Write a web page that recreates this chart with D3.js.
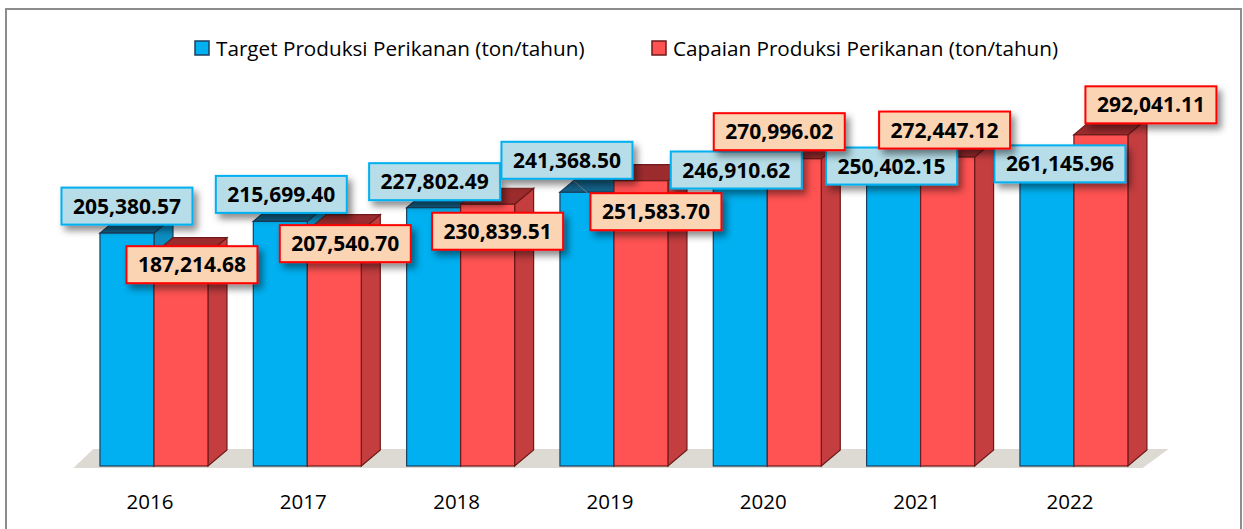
<!DOCTYPE html>
<html>
<head>
<meta charset="utf-8">
<script src="https://cdnjs.cloudflare.com/ajax/libs/d3/7.8.5/d3.min.js"></script>
<style>
  body { margin: 0; background: #fff; }
  svg { display: block; }
</style>
</head>
<body>
<div id="chart"></div>
<script>
// data
var years = ['2016', '2017', '2018', '2019', '2020', '2021', '2022']
var target = [205380.57, 215699.40, 227802.49, 241368.50, 246910.62, 250402.15, 261145.96]
var capaian = [187214.68, 207540.70, 230839.51, 251583.70, 270996.02, 272447.12, 292041.11]
var seriesNames = ['Target Produksi Perikanan (ton/tahun)', 'Capaian Produksi Perikanan (ton/tahun)']

// label nudges (moved by hand in the original)
var targetNudge = [[0, -27], [1, -27], [1, -26], [-20, -32], [-4, -16], [-2, -16], [13, -6]]
var capaianNudge = [[11, 11], [11, 13], [10, 27], [15, 31], [-15, -27], [-3, -27], [50, -30]]

var W = 1243, H = 529
var depthX = 19, depthY = -16
var fmt = d3.format(',.2f')

var svg = d3.select('#chart').append('svg')
    .attr('width', W)
    .attr('height', H)

var defs = svg.append('defs')
var shadow = defs.append('filter')
    .attr('id', 'shadow')
    .attr('x', '-20%').attr('y', '-30%')
    .attr('width', '150%').attr('height', '180%')
shadow.append('feDropShadow')
    .attr('dx', 4).attr('dy', 5)
    .attr('stdDeviation', 3.5)
    .attr('flood-color', '#000')
    .attr('flood-opacity', 0.45)

// frame
svg.append('rect')
    .attr('x', 6).attr('y', 9)
    .attr('width', 1235).attr('height', 540)
    .attr('fill', 'none')
    .attr('stroke', '#8c8c8c')
    .attr('stroke-width', 2)

// scales
var xScale = d3.scaleBand()
    .domain(years)
    .range([77.3, 1150.6])
    .paddingInner(0.2957)
    .paddingOuter(0.1479)
var yScale = d3.scaleLinear()
    .domain([0, 300000])
    .range([466, 125.8])
var barW = xScale.bandwidth() / 2

var colors = [
  { front: '#00b0f0', side: '#0a8ec2', top: '#13628a', edge: '#1d3f5e' },
  { front: '#ff5252', side: '#c43d3f', top: '#9c2b2d', edge: '#6e1a1a' }
]

// floor
var fl = xScale.range()[0] - 4, fr = xScale.range()[1] - 8
var floorY = yScale(0) + 2
svg.append('path')
    .attr('d', 'M' + fl + ',' + floorY + 'L' + fr + ',' + floorY +
      'L' + (fr + 26) + ',' + (floorY - 19) + 'L' + (fl + 20) + ',' + (floorY - 19) + 'Z')
    .attr('fill', '#dddad3')

// 3d bars
function bar(g, x, v, c) {
  var y0 = yScale(0), y1 = yScale(v)
  g.append('path')
    .attr('d', 'M' + (x + barW) + ',' + y0 + 'L' + (x + barW + depthX) + ',' + (y0 + depthY) +
      'L' + (x + barW + depthX) + ',' + (y1 + depthY) + 'L' + (x + barW) + ',' + y1 + 'Z')
    .attr('fill', c.side).attr('stroke', c.edge).attr('stroke-width', 1.2)
  g.append('path')
    .attr('d', 'M' + x + ',' + y1 + 'L' + (x + depthX) + ',' + (y1 + depthY) +
      'L' + (x + barW + depthX) + ',' + (y1 + depthY) + 'L' + (x + barW) + ',' + y1 + 'Z')
    .attr('fill', c.top).attr('stroke', c.edge).attr('stroke-width', 1.2)
  g.append('rect')
    .attr('x', x).attr('y', y1)
    .attr('width', barW).attr('height', y0 - y1)
    .attr('fill', c.front).attr('stroke', c.edge).attr('stroke-width', 1.2)
}

var groups = svg.selectAll('.group')
    .data(years)
    .enter().append('g')
    .attr('class', 'group')
groups.each(function (d, i) {
  var g = d3.select(this)
  bar(g, xScale(d), target[i], colors[0])
  bar(g, xScale(d) + barW, capaian[i], colors[1])
})

// category labels
svg.selectAll('.xlabel')
    .data(years)
    .enter().append('text')
    .attr('class', 'xlabel')
    .attr('x', function (d) { return xScale(d) + barW - 4 })
    .attr('y', 509)
    .attr('text-anchor', 'middle')
    .style('font-family', 'Open Sans')
    .style('font-size', '20.5px')
    .style('fill', '#000')
    .text(function (d) { return d })

// leader line for 2019 target label
var i19 = years.indexOf('2019')
svg.append('line')
    .attr('x1', xScale('2019') + barW / 2 + targetNudge[i19][0] + 5)
    .attr('y1', yScale(target[i19]) + targetNudge[i19][1] + 19)
    .attr('x2', xScale('2019') + barW / 2 + 1)
    .attr('y2', yScale(target[i19]) + 1)
    .attr('stroke', '#7f7f7f')
    .attr('stroke-width', 1)

// data labels
var boxW = 131, boxH = 37
function labels(vals, nudge, offset, fill, stroke) {
  var lab = svg.append('g').selectAll('g')
      .data(years)
      .enter().append('g')
      .attr('transform', function (d, i) {
        var cx = xScale(d) + offset + barW / 2 + nudge[i][0]
        var cy = yScale(vals[i]) + nudge[i][1]
        return 'translate(' + cx + ',' + cy + ')'
      })
  lab.append('rect')
      .attr('x', -boxW / 2).attr('y', -boxH / 2)
      .attr('width', boxW).attr('height', boxH)
      .attr('fill', fill)
      .attr('stroke', stroke)
      .attr('stroke-width', 2)
      .attr('filter', 'url(#shadow)')
  lab.append('text')
      .attr('y', 7.5)
      .attr('text-anchor', 'middle')
      .style('font-family', 'Open Sans')
      .style('font-weight', 'bold')
      .style('font-size', '21px')
      .style('fill', '#000')
      .text(function (d, i) { return fmt(vals[i]) })
}
labels(target, targetNudge, 0, '#b6dde8', '#00b0f0')
labels(capaian, capaianNudge, barW, '#fbd4b4', '#ff0000')

// legend
var legendX = [195, 652]
var legend = svg.selectAll('.legend')
    .data(seriesNames)
    .enter().append('g')
    .attr('class', 'legend')
    .attr('transform', function (d, i) { return 'translate(' + legendX[i] + ',41)' })
legend.append('rect')
    .attr('width', 14).attr('height', 14)
    .attr('fill', function (d, i) { return colors[i].front })
    .attr('stroke', function (d, i) { return colors[i].edge })
    .attr('stroke-width', 1.5)
legend.append('text')
    .attr('x', 21)
    .attr('y', 14.5)
    .style('font-family', 'Open Sans')
    .style('font-size', '20.7px')
    .style('fill', '#000')
    .text(function (d) { return d })
</script>
</body>
</html>
